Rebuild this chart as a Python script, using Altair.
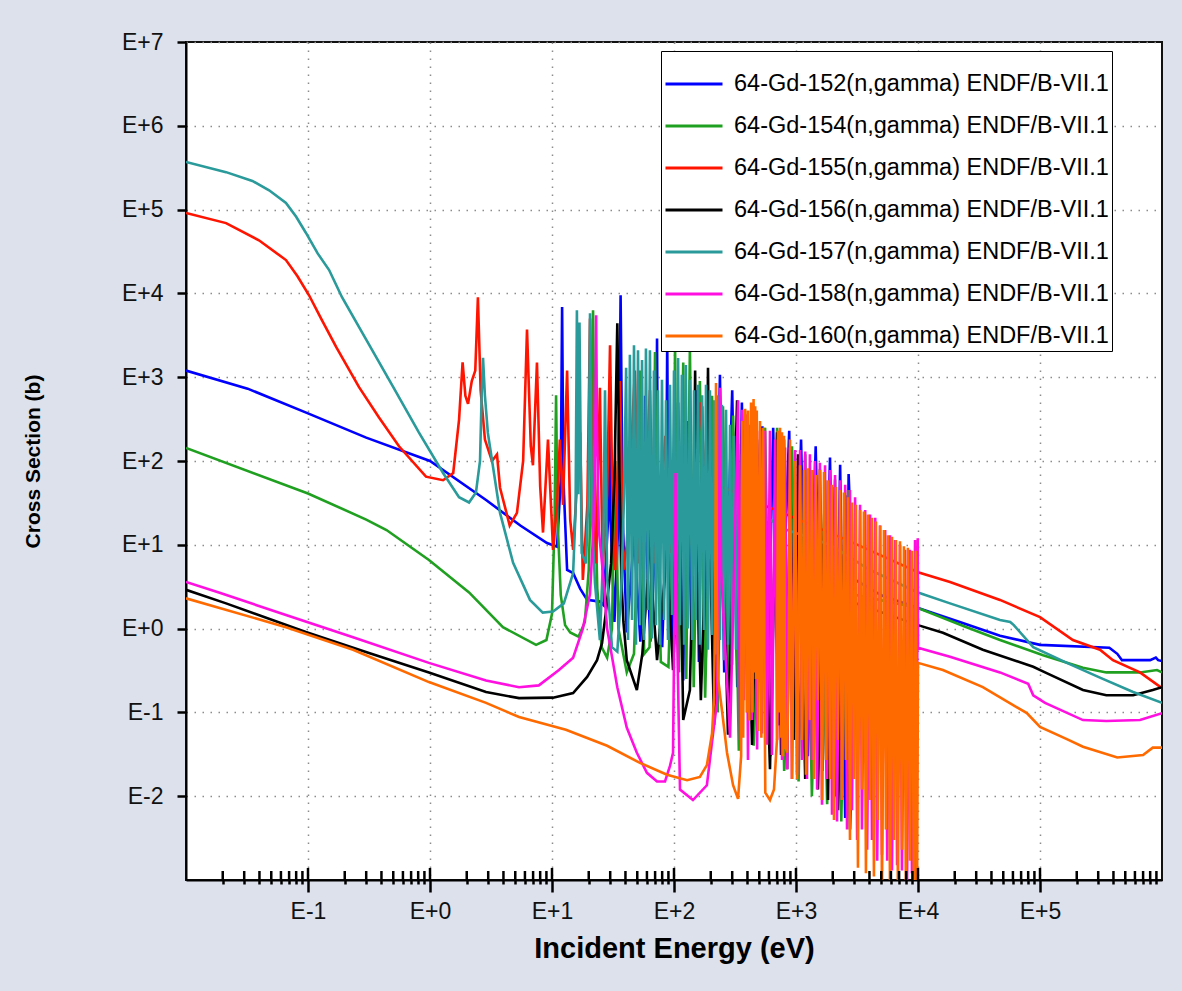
import altair as alt
import pandas as pd

# ---------------- data (energy in eV, cross section in b) ----------------
NAMES = [
    "64-Gd-152(n,gamma) ENDF/B-VII.1",
    "64-Gd-154(n,gamma) ENDF/B-VII.1",
    "64-Gd-155(n,gamma) ENDF/B-VII.1",
    "64-Gd-156(n,gamma) ENDF/B-VII.1",
    "64-Gd-157(n,gamma) ENDF/B-VII.1",
    "64-Gd-158(n,gamma) ENDF/B-VII.1",
    "64-Gd-160(n,gamma) ENDF/B-VII.1",
]
COLORS = ["#0000ff", "#20a020", "#ff1400", "#000000", "#2a9a9a", "#ff10e0", "#ff6a00"]

GD152 = [
    (0.01, 1200), (0.032, 730), (0.1, 370), (0.3, 190), (1.0, 100), (2.9, 34), (5.5, 17),
    (9.1, 10.5), (11.0, 9.5), (11.8, 60), (12.1, 6900), (12.4, 60), (13.3, 5.0), (14.9, 4.6),
    (17.0, 3.0), (19.4, 2.2), (24.7, 2.1), (26.5, 1.9), (28.8, 20), (29.5, 300), (30.2, 20),
    (32.5, 1.2), (35.0, 20), (36.5, 9500), (38.0, 20), (41.0, 0.9), (46.0, 8), (47.0, 150),
    (48.0, 8), (53.0, 0.7), (57.0, 10), (58.0, 600), (59.5, 10), (64.0, 0.7), (71.0, 15),
    (72.6, 2900), (74.0, 15), (80.0, 0.6), (86.0, 15), (88.0, 2700), (90.0, 15), (97.0, 0.5),
    (108.0, 500), (119.0, 0.24), (128.0, 300), (140.0, 0.5), (150.0, 700), (160.0, 0.4),
    (170.0, 450), (181.0, 0.3), (200.0, 400), (215.0, 0.35), (238.0, 1070), (258.0, 0.3),
    (300.0, 700), (330.0, 0.2), (360.0, 500), (400.0, 0.15), (530.0, 260), (580.0, 0.1),
    (650.0, 250), (720.0, 0.07), (880.0, 230), (950.0, 0.05), (1100.0, 180), (1250.0, 0.03),
    (1450.0, 150), (1650.0, 0.02), (1900.0, 110), (2100.0, 0.01), (2300.0, 90), (2530.0, 0.0055),
    (2700.0, 70), (2900.0, 4.0), (5000.0, 2.5), (10000.0, 1.76), (22000.0, 1.2), (47000.0, 0.82),
    (100000.0, 0.64), (370000.0, 0.59), (430000.0, 0.5), (470000.0, 0.42), (800000.0, 0.42),
    (890000.0, 0.45), (930000.0, 0.42), (1000000.0, 0.41),
]

GD154 = [
    (0.01, 143), (0.1, 41), (0.3, 20), (0.44, 15), (0.98, 6.6), (2.09, 2.7), (3.96, 1.04),
    (7.4, 0.64), (9.0, 0.73), (10.0, 1.5), (10.5, 20), (10.8, 610), (11.1, 20), (11.8, 2.5),
    (12.8, 1.1), (14.1, 0.9), (16.5, 0.8), (18.6, 1.2), (20.0, 5), (21.0, 60), (21.7, 6300),
    (22.4, 60), (23.5, 3), (25.5, 0.6), (28.3, 0.45), (31.0, 1.0), (33.0, 100), (35.0, 1.0),
    (41.0, 0.3), (47.0, 0.5), (51.0, 20), (52.6, 1200), (54.0, 20), (57.0, 0.5), (63.0, 0.6),
    (68.0, 30), (69.9, 2000), (72.0, 30), (78.0, 0.4), (90.0, 0.35), (100.0, 50), (102.0, 2600),
    (104.0, 50), (110.0, 0.3), (119.0, 1500), (126.0, 0.25), (135.0, 2300), (145.0, 0.2),
    (163.0, 900), (180.0, 0.15), (205.0, 600), (228.0, 0.1), (252.0, 450), (280.0, 0.07),
    (305.0, 350), (340.0, 0.035), (383.0, 300), (450.0, 0.04), (558.0, 250), (620.0, 0.03),
    (700.0, 250), (800.0, 0.02), (927.0, 150), (1050.0, 0.015), (1190.0, 120), (1350.0, 0.01),
    (1570.0, 80), (1800.0, 0.008), (2090.0, 60), (2350.0, 0.005), (2667.0, 45), (2800.0, 2.6),
    (10000.0, 1.76), (25000.0, 1.04), (47000.0, 0.73), (106000.0, 0.48), (225000.0, 0.34),
    (350000.0, 0.30), (660000.0, 0.30), (910000.0, 0.32), (1000000.0, 0.30),
]

GD155 = [
    (0.01, 91000), (0.0213, 69000), (0.0396, 43000), (0.066, 25000), (0.082, 16000),
    (0.102, 9500), (0.13, 4800), (0.17, 2300), (0.262, 760), (0.382, 330), (0.557, 150),
    (0.927, 65), (1.28, 59), (1.55, 72), (1.73, 310),
    (1.85, 1500), (1.95, 600), (2.05, 480), (2.2, 900), (2.35, 1200), (2.47, 9000), (2.6, 700),
    (2.82, 180), (3.22, 100), (3.54, 120), (3.75, 48), (4.5, 17), (5.16, 24), (5.8, 100),
    (6.24, 3700), (6.7, 150), (6.98, 89), (7.53, 1500), (8.0, 50), (8.44, 14), (9.27, 180),
    (10.2, 8.7), (11.0, 30), (11.6, 180), (12.3, 30), (13.3, 1200), (14.1, 20), (14.9, 8.7),
    (17.0, 220), (17.9, 3.8), (19.5, 30), (20.5, 5000), (21.5, 30), (23.0, 6), (24.7, 750),
    (26.0, 5), (28.3, 40), (29.9, 2400), (31.7, 10), (33.0, 5), (36.0, 900), (38.5, 5),
    (41.0, 10), (47.8, 1200), (52.0, 6), (57.0, 20), (63.5, 700), (68.0, 6), (75.0, 15),
    (85.0, 200), (95.0, 8), (110.0, 60), (120.0, 10), (128.0, 74), (140.0, 10), (165.0, 500),
    (180.0, 60), (305.0, 43), (420.0, 34), (640.0, 27), (2770.0, 11), (10000.0, 4.7),
    (18300.0, 3.6), (47000.0, 2.2), (100000.0, 1.37), (186000.0, 0.73), (310000.0, 0.56),
    (396000.0, 0.42), (660000.0, 0.30), (1000000.0, 0.195),
]

GD156 = [
    (0.01, 2.9), (0.0213, 2.0), (0.096, 0.91), (0.316, 0.51), (0.98, 0.30), (2.88, 0.175),
    (5.37, 0.148), (10.2, 0.15), (14.9, 0.17), (19.4, 0.265), (23.4, 0.42), (25.7, 0.67),
    (27.7, 1.6), (30.5, 6), (32.5, 60), (34.3, 4400), (35.8, 60), (37.0, 4), (38.5, 1.2),
    (41.0, 0.42), (49.6, 0.185), (55.0, 0.5), (61.0, 4), (63.5, 20), (66.0, 3), (72.6, 0.42),
    (84.0, 4), (87.6, 34), (91.0, 3), (98.2, 0.32), (106.0, 5), (110.0, 100), (114.0, 4),
    (119.0, 0.081), (135.0, 0.185), (145.0, 20), (149.0, 1200), (153.0, 20), (166.0, 0.14),
    (185.0, 20), (190.0, 1300), (195.0, 20), (213.0, 0.071), (238.0, 310), (277.0, 0.054),
    (329.0, 530), (355.0, 0.081), (383.0, 230), (436.0, 0.041), (507.0, 180), (612.0, 0.021),
    (700.0, 220), (754.0, 0.031), (797.0, 180), (846.0, 0.021), (893.0, 135), (963.0, 0.047),
    (1038.0, 120), (1190.0, 0.016), (1352.0, 78), (1514.0, 0.012), (1730.0, 59), (1830.0, 0.009),
    (1973.0, 49), (2208.0, 0.0068), (2530.0, 39), (2770.0, 0.004), (3100.0, 2.0), (10000.0, 1.1),
    (16000.0, 0.89), (34000.0, 0.56), (88000.0, 0.35), (110000.0, 0.30), (225000.0, 0.185),
    (350000.0, 0.16), (580000.0, 0.16), (840000.0, 0.185), (1000000.0, 0.2),
]

GD157 = [
    (0.01, 370000), (0.0213, 280000), (0.035, 220000), (0.048, 170000), (0.066, 120000),
    (0.08, 82000), (0.096, 53000), (0.12, 30000),
    (0.149, 19000), (0.19, 9000), (0.30, 2800), (0.5, 760), (0.81, 220), (1.28, 72), (1.73, 37),
    (2.09, 32), (2.38, 42), (2.57, 100), (2.65, 600), (2.72, 1700), (2.82, 600), (2.98, 216),
    (3.75, 24), (4.8, 6.1), (6.6, 2.2), (8.4, 1.55), (10.2, 1.6), (12.5, 2.0), (14.9, 4.6),
    (15.6, 25), (16.0, 6300), (16.4, 40), (16.8, 4500), (17.5, 8), (19.0, 6), (19.9, 40),
    (20.5, 5800), (21.3, 20), (22.5, 3.5), (24.7, 0.73), (26.3, 8), (27.2, 700), (28.3, 4),
    (31.0, 0.6), (34.3, 0.53), (37.0, 3), (39.0, 40), (40.5, 1300), (42.0, 0.73), (43.5, 1850),
    (45.3, 1.27), (47.0, 2400), (48.8, 0.64), (50.7, 2100), (52.6, 1.1), (54.7, 1600),
    (56.8, 0.73), (58.9, 2200), (61.2, 1.67), (63.5, 2100), (66.0, 0.76), (68.5, 1200),
    (71.2, 1.1), (73.9, 700), (76.7, 0.64), (79.7, 930), (82.8, 1.27), (86.0, 530), (89.3, 0.73),
    (92.7, 810), (96.3, 1.45), (100.0, 1200), (104.0, 0.84), (108.0, 1700), (112.0, 1.1),
    (116.0, 1070), (121.0, 0.64), (125.0, 1400), (130.0, 1.0), (135.0, 930), (141.0, 0.73),
    (146.0, 700), (151.0, 1.27), (157.0, 810), (163.0, 0.64), (170.0, 610), (176.0, 0.96),
    (183.0, 810), (190.0, 0.56), (197.0, 700), (205.0, 0.84), (213.0, 530), (221.0, 0.49),
    (229.0, 610), (238.0, 0.73), (247.0, 470), (257.0, 0.42), (267.0, 410), (277.0, 0.64),
    (288.0, 270), (299.0, 0.37), (310.0, 200), (322.0, 0.56), (335.0, 160), (348.0, 0.4),
    (361.0, 120), (375.0, 0.35), (389.0, 90), (404.0, 20), (612.0, 20),
    (846.0, 15), (1900.0, 10), (4050.0, 5.0), (10000.0, 2.7), (18300.0, 2.0), (47000.0, 1.27),
    (57000.0, 1.2), (61000.0, 1.1), (88000.0, 0.6), (166000.0, 0.39), (310000.0, 0.26),
    (580000.0, 0.175), (1000000.0, 0.13),
]

GD158 = [
    (0.01, 3.6), (0.0186, 2.7), (0.066, 1.45), (0.234, 0.79), (0.98, 0.39), (2.88, 0.24),
    (5.37, 0.2), (7.8, 0.21), (11.4, 0.32), (14.9, 0.45), (17.9, 1.0), (20.5, 2.6), (21.8, 15),
    (22.6, 200), (23.0, 5500), (23.4, 200), (24.2, 15), (26.2, 4.5), (28.3, 1.0), (34.3, 0.2),
    (41.0, 0.066), (49.6, 0.033), (60.0, 0.019), (72.6, 0.015), (84.4, 0.015), (92.7, 0.023),
    (98.2, 0.033), (101.0, 2.0), (103.0, 72), (105.0, 2.0), (112.0, 0.012), (143.0, 0.009),
    (186.0, 0.0135), (209.0, 0.056), (225.0, 0.13), (233.0, 5), (238.0, 750), (243.0, 5),
    (288.0, 0.05), (335.0, 530), (348.0, 0.047), (361.0, 410), (375.0, 0.14), (389.0, 360),
    (404.0, 0.027), (420.0, 270), (436.0, 0.081), (462.0, 230), (480.0, 0.036), (507.0, 230),
    (526.0, 0.056), (558.0, 230), (579.0, 0.041), (612.0, 230), (635.0, 0.031), (674.0, 180),
    (700.0, 0.047), (740.0, 155), (768.0, 0.027), (814.0, 145), (846.0, 0.021), (893.0, 145),
    (927.0, 0.016), (983.0, 135), (1020.0, 0.018), (1080.0, 135), (1120.0, 0.027), (1190.0, 130),
    (1230.0, 0.016), (1300.0, 120), (1352.0, 0.027), (1430.0, 100), (1490.0, 0.012),
    (1570.0, 95), (1634.0, 0.0079), (1730.0, 89), (1790.0, 0.016), (1900.0, 78), (1973.0, 0.006),
    (2090.0, 68), (2170.0, 0.005), (2300.0, 59), (2382.0, 0.009), (2530.0, 52), (2620.0, 0.004),
    (2770.0, 45), (2876.0, 0.0068), (3050.0, 37), (3170.0, 0.003), (3350.0, 30), (3472.0, 0.004),
    (3690.0, 26), (3830.0, 0.0023), (4050.0, 23), (4193.0, 0.003), (4460.0, 21), (4630.0, 0.0017),
    (4890.0, 17), (5067.0, 0.002), (5380.0, 15), (5590.0, 0.0017), (5900.0, 13), (6118.0, 0.0013),
    (6490.0, 11.4), (6740.0, 0.0015), (7120.0, 10), (7387.0, 0.0013), (7830.0, 8.7),
    (8130.0, 0.0009), (8600.0, 8.7), (8918.0, 0.0012), (9460.0, 11.4), (9700.0, 0.0008),
    (9950.0, 12), (10000.0, 0.59), (18300.0, 0.46), (47000.0, 0.30), (80000.0, 0.22),
    (88000.0, 0.16), (110000.0, 0.13), (225000.0, 0.081), (350000.0, 0.079), (660000.0, 0.081),
    (1000000.0, 0.098),
]

GD160 = [
    (0.01, 2.3), (0.066, 1.04), (0.234, 0.56), (0.98, 0.23), (2.88, 0.13), (5.37, 0.088),
    (13.0, 0.062), (28.3, 0.04), (52.6, 0.025), (87.7, 0.018), (128.0, 0.0155), (163.0, 0.017),
    (186.0, 0.0235), (205.0, 0.056), (213.0, 0.15), (218.0, 3.0), (221.0, 850), (224.0, 3.0),
    (230.0, 0.25), (247.0, 0.107), (272.0, 0.033), (305.0, 0.0135), (335.0, 0.0093),
    (355.0, 0.03), (362.0, 300), (369.0, 0.05), (383.0, 420), (395.0, 0.1), (404.0, 400),
    (415.0, 0.08), (428.0, 500), (440.0, 0.1), (449.0, 550), (456.0, 0.3), (463.0, 450),
    (470.0, 0.25), (477.0, 400), (490.0, 0.06), (507.0, 300), (520.0, 0.05), (537.0, 250),
    (560.0, 0.011), (612.0, 0.009), (660.0, 0.012), (700.0, 0.05), (711.0, 230), (725.0, 0.1),
    (740.0, 250), (754.0, 0.05), (768.0, 220), (784.0, 0.03), (797.0, 200), (814.0, 0.04),
    (846.0, 0.033), (870.0, 0.3), (893.0, 180),
    (927.0, 0.016), (983.0, 100), (1020.0, 0.016), (1080.0, 89), (1120.0, 0.047), (1163.0, 78),
    (1208.0, 0.018), (1254.0, 82), (1300.0, 0.081), (1352.0, 78), (1405.0, 0.016), (1459.0, 68),
    (1514.0, 0.14), (1570.0, 78), (1634.0, 0.009), (1698.0, 74), (1763.0, 0.027), (1830.0, 59),
    (1900.0, 0.016), (1973.0, 52), (2049.0, 0.0052), (2127.0, 49), (2208.0, 0.047), (2300.0, 45),
    (2382.0, 0.009), (2473.0, 42), (2568.0, 0.027), (2667.0, 37), (2770.0, 0.003), (2876.0, 32),
    (2986.0, 0.016), (3101.0, 30), (3220.0, 0.0014), (3350.0, 26), (3472.0, 0.012), (3605.0, 25),
    (3744.0, 0.0012), (3888.0, 23), (4050.0, 0.009), (4193.0, 21), (4354.0, 0.0011), (4521.0, 19),
    (4695.0, 0.0052), (4890.0, 17), (5067.0, 0.0006), (5261.0, 15), (5463.0, 0.004), (5673.0, 13),
    (5900.0, 0.0006), (6118.0, 12.5), (6353.0, 0.003), (6597.0, 11.4), (6850.0, 0.0006),
    (7120.0, 11), (7387.0, 0.0023), (7670.0, 9.6), (7965.0, 0.0006), (8271.0, 9.2),
    (8600.0, 0.0017), (8918.0, 8.5), (9260.0, 0.0006), (9616.0, 8.5), (9820.0, 0.0006),
    (10000.0, 0.39), (16000.0, 0.32), (34000.0, 0.2), (78000.0, 0.098), (100000.0, 0.067),
    (166000.0, 0.048), (225000.0, 0.039), (430000.0, 0.029), (700000.0, 0.031), (840000.0, 0.038),
    (1000000.0, 0.038),
]

SERIES = [GD152, GD154, GD155, GD156, GD157, GD158, GD160]

X_DOMAIN = [1e-2, 1e6]
Y_DOMAIN = [1e-3, 1e7]
X_MAJOR = [1e-1, 1e0, 1e1, 1e2, 1e3, 1e4, 1e5]
X_MINOR = [m * 10.0 ** d for d in range(-2, 6) for m in range(2, 10)]
Y_MAJOR = [1e-2, 1e-1, 1e0, 1e1, 1e2, 1e3, 1e4, 1e5, 1e6, 1e7]

X_TITLE = "Incident Energy (eV)"
Y_TITLE = "Cross Section (b)"

# ---------------- build table ----------------
rows = []
for name, pts in zip(NAMES, SERIES):
    for i, (e, s) in enumerate(pts):
        rows.append({"series": name, "E": e, "sigma": s, "order": i})
df = pd.DataFrame(rows)

W, H = 976, 838
FONT = "Liberation Sans"

IS_MAJOR = "abs(log(datum.value)/LN10 - round(log(datum.value)/LN10)) < 0.01"
LABEL = ("(" + IS_MAJOR + ") ? 'E' + (round(log(datum.value)/LN10) >= 0 ? '+' : '') + "
         "round(log(datum.value)/LN10) : ''")

x_scale = alt.Scale(type="log", domain=X_DOMAIN, nice=False)
y_scale = alt.Scale(type="log", domain=Y_DOMAIN, nice=False)

x_axis = alt.Axis(
    values=X_MAJOR + X_MINOR, labelExpr=LABEL, labelOverlap=False, labelFlush=False,
    tickSize={"condition": {"test": IS_MAJOR, "value": 12}, "value": 4},
    gridOpacity={"condition": {"test": IS_MAJOR, "value": 1}, "value": 0},
    title=X_TITLE, titleFontSize=29, titlePadding=11, labelPadding=8, labelFontSize=23,
)
y_axis = alt.Axis(
    values=Y_MAJOR, labelExpr=LABEL, labelOverlap=False, tickSize=9,
    title=Y_TITLE, titleFontSize=21, titlePadding=78, labelPadding=14, labelFontSize=23,
)

color = alt.Color(
    "series:N",
    scale=alt.Scale(domain=NAMES, range=COLORS),
    legend=alt.Legend(
        title=None, orient="none", legendX=475, legendY=9, padding=3, fillColor="white",
        strokeColor="black", labelFont=FONT, labelFontSize=23.5, labelLimit=0,
        symbolType="stroke", symbolSize=3249, symbolStrokeWidth=3, rowPadding=0,
        labelOffset=10,
    ),
)

layers = []
for name in NAMES:
    layers.append(
        alt.Chart(df)
        .transform_filter(alt.datum.series == name)
        .mark_line(strokeWidth=2.6, clip=True)
        .encode(
            x=alt.X("E:Q", scale=x_scale, axis=x_axis),
            y=alt.Y("sigma:Q", scale=y_scale, axis=y_axis),
            color=color,
            order="order:Q",
        )
    )

minor_in = alt.Chart(pd.DataFrame({"t": X_MINOR})).mark_rule(color="black", strokeWidth=2.5).encode(
    x=alt.X("t:Q", scale=x_scale, axis=x_axis), y=alt.value(H - 9), y2=alt.value(H)
)
major_in = alt.Chart(pd.DataFrame({"t": X_MAJOR})).mark_rule(color="black", strokeWidth=2.5).encode(
    x=alt.X("t:Q", scale=x_scale, axis=x_axis), y=alt.value(H - 12), y2=alt.value(H)
)

chart = (
    alt.layer(*layers, minor_in, major_in)
    .properties(
        width=W, height=H, background="#dde1ec",
        padding={"left": 186, "top": 42, "right": 20, "bottom": 111},
        autosize=alt.AutoSizeParams(type="none"),
    )
    .configure_view(fill="white", stroke="#111111", strokeWidth=2)
    .configure_axis(
        labelFont=FONT, titleFont=FONT, titleFontWeight="bold", labelColor="#111111",
        titleColor="#000000", domainColor="#000000", domainWidth=2, tickColor="#000000",
        tickWidth=2.5, grid=True, gridColor="#8c8c8c", gridDash=[1.5, 6.5], gridWidth=1.5,
    )
)

chart.save("out.html", embed_options={"renderer": "svg", "actions": False})
